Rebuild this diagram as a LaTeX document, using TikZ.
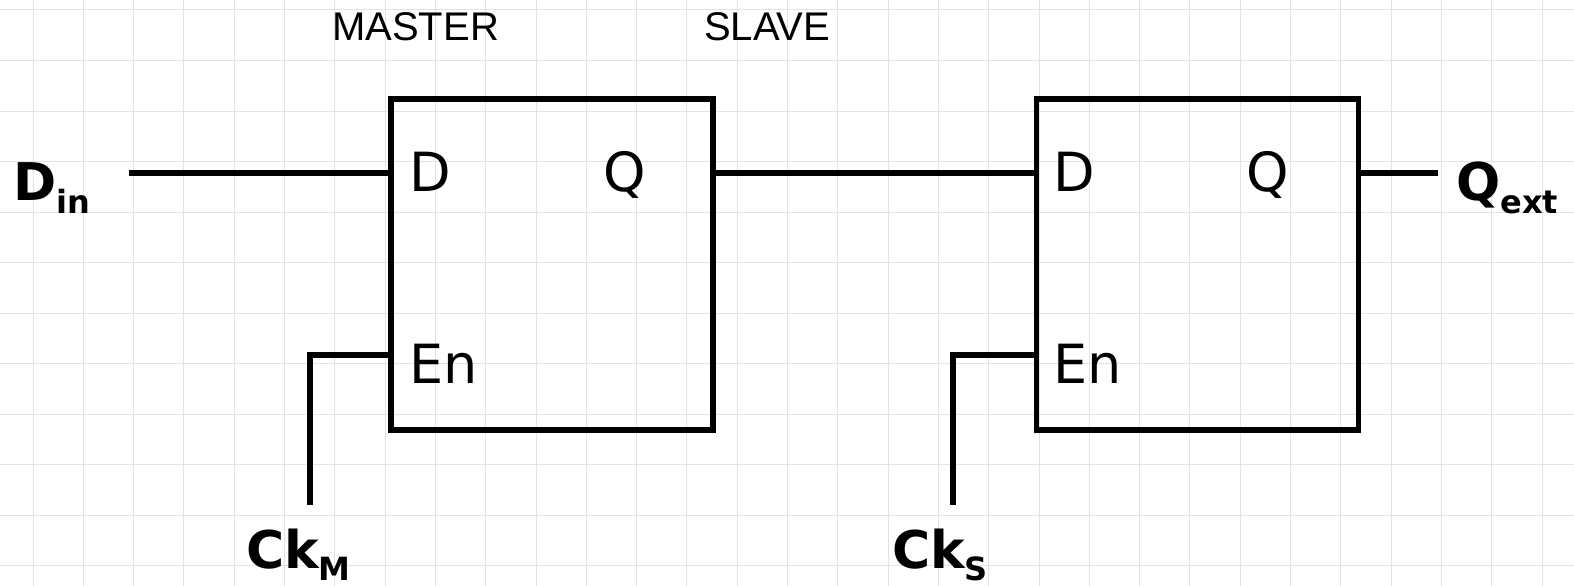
\documentclass[tikz,border=0pt]{standalone}
\usepackage{fontspec}
\setmainfont{DejaVu Sans}
\newfontfamily\labfont{Liberation Sans}
\begin{document}
\begin{tikzpicture}[x=1pt,y=-1pt,
  wire/.style={line width=5.5pt, line join=miter},
  ffbox/.style={draw, line width=5.5pt, minimum width=322pt, minimum height=331pt, inner sep=0pt},
  pin/.style={anchor=base west, inner sep=0pt, font=\fontsize{54}{54}\selectfont},
  io/.style={anchor=base west, inner sep=0pt, font=\fontsize{52}{52}\selectfont\bfseries},
  title/.style={anchor=base west, inner sep=0pt, font=\labfont\fontsize{40}{40}\selectfont},
  gridline/.style={black!11, line width=1pt}]
\useasboundingbox[fill=white] (0,0) rectangle (1574,586);
% faint graph paper
\foreach \i in {0,...,31} {\draw[gridline] (33+50.3*\i,0) -- (33+50.3*\i,586);}
\foreach \j in {0,...,11} {\draw[gridline] (0,10+50.5*\j) -- (1574,10+50.5*\j);}
% titles
\node[title] (tm) at (332,41) {MASTER};
\node[title] (ts) at (704,41) {SLAVE};
% flip-flops
\node[ffbox] (m) at (552,264.5) {};
\node[ffbox] (s) at (1197.5,264.5) {};
\node[pin] (mD) at (409,191) {D};
\node[pin] (mQ) at (603,191) {Q};
\node[pin] (mEn) at (409,383) {En};
\node[pin] (sD) at (1053,191) {D};
\node[pin] (sQ) at (1246,191) {Q};
\node[pin] (sEn) at (1053,383) {En};
% io labels
\node[io] (din) at (13,200) {D\raisebox{-13pt}{\fontsize{32}{32}\selectfont in}};
\node[io] (qext) at (1456,200) {Q\raisebox{-13pt}{\fontsize{32}{32}\selectfont ext}};
\node[io] (ckm) at (246,568) {Ck\raisebox{-12pt}{\fontsize{32}{32}\selectfont M}};
\node[io] (cks) at (892,568) {Ck\raisebox{-12pt}{\fontsize{32}{32}\selectfont S}};
% connector ends
\coordinate (dinE) at (129,173);
\coordinate (qextE) at (1438,173);
\coordinate (enY) at (0,355);
\coordinate (ckmE) at (310,505);
\coordinate (cksE) at (953,505);
\draw[wire] (dinE) -- (dinE -| m.west);
\draw[wire] (m.east |- dinE) -- (s.west |- dinE);
\draw[wire] (s.east |- dinE) -- (qextE);
\draw[wire] (ckmE) |- (m.west |- enY);
\draw[wire] (cksE) |- (s.west |- enY);
\end{tikzpicture}
\end{document}
